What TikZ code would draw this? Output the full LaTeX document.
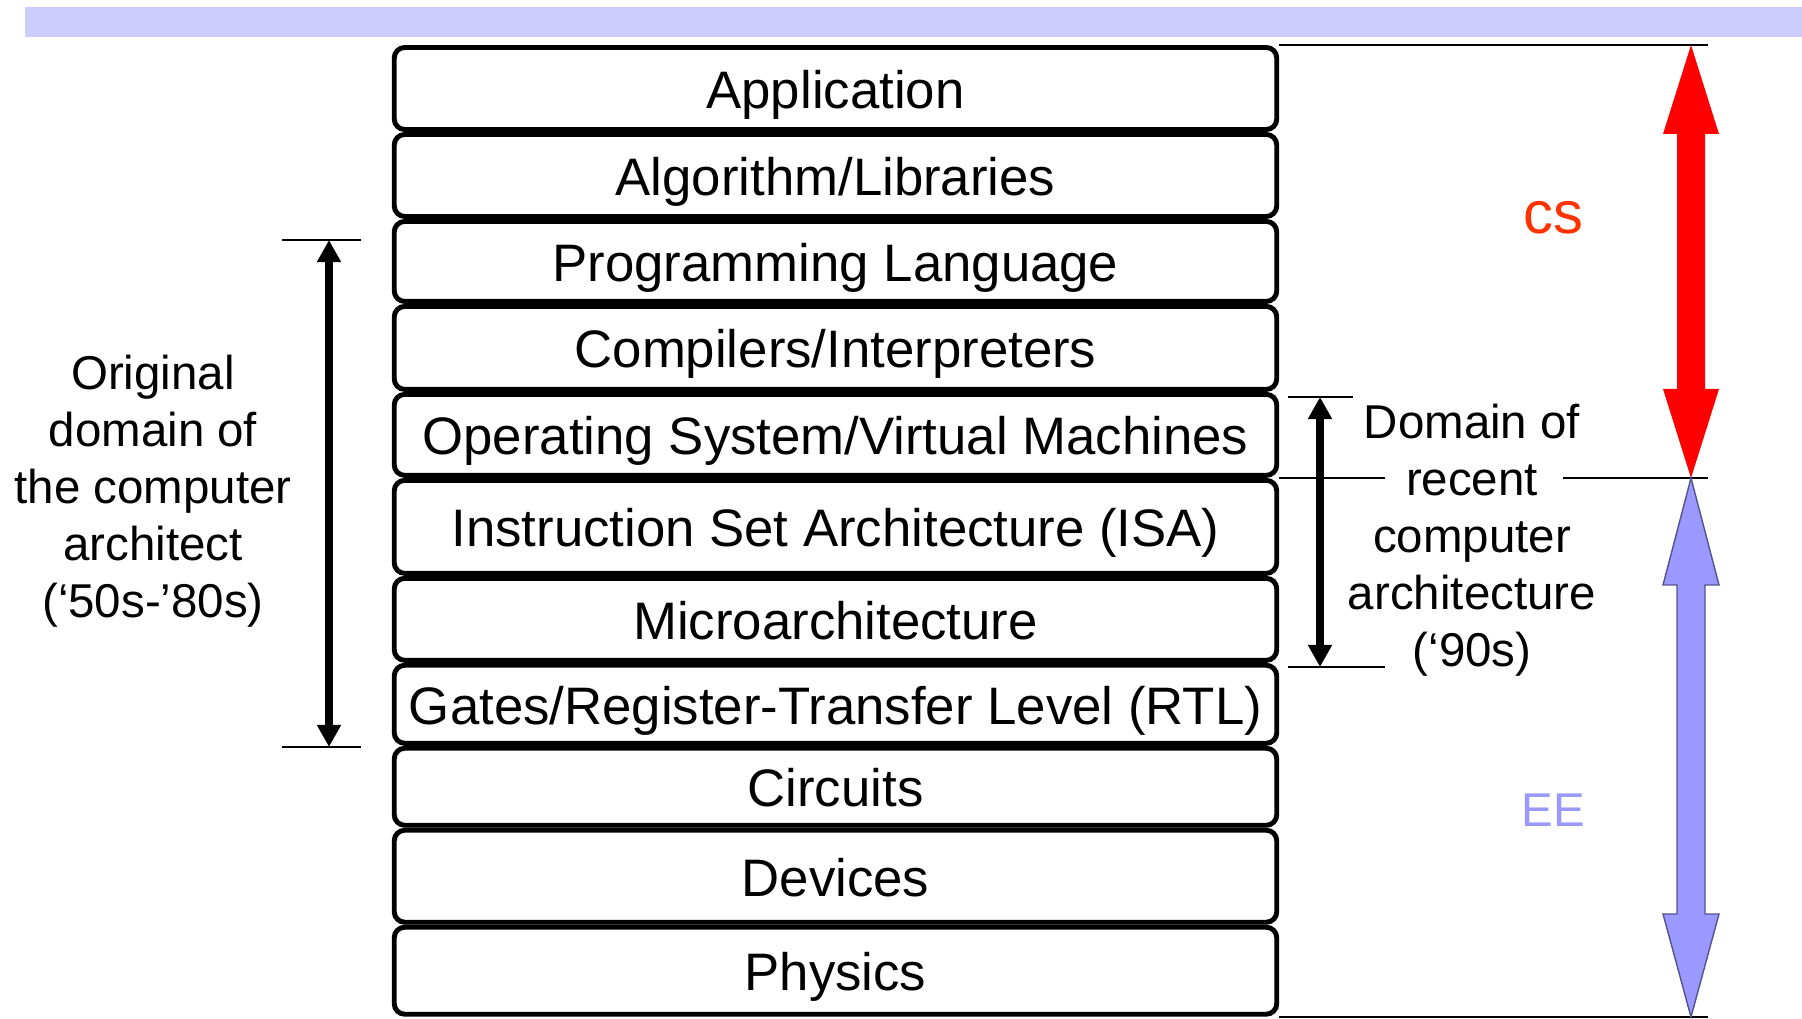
\documentclass[tikz,border=0pt]{standalone}
\usepackage{fontspec}
\setmainfont{Liberation Sans}
\usepackage{tikz}
\usetikzlibrary{arrows.meta,positioning}
\definecolor{bandblue}{RGB}{204,204,255}
\definecolor{csred}{RGB}{255,51,0}
\definecolor{eeblue}{RGB}{153,153,255}

\begin{document}
\begin{tikzpicture}[
  x=0.01cm, y=-0.01cm,
  layer/.style={draw, line width=1.4pt, rounded corners=3pt, minimum width=8.82cm, inner sep=2pt, text height=1.13em, text depth=0pt, font=\fontsize{15}{18}\selectfont},
  note/.style={align=center, font=\fontsize{13.5}{16.2}\selectfont},
  rule/.style={line width=0.6pt},
  span/.style={{Triangle[length=6.3pt,width=6.5pt]}-{Triangle[length=6.3pt,width=6.5pt]}, line width=2pt},
  fat/.style={line join=miter}
]
\useasboundingbox (0,0) rectangle (1802,1019);

\fill[bandblue] (25,7) rectangle (1802,37);

% the layers, top to bottom
\node[layer, minimum height=0.82cm] (app) at (835.5,88.5) {Application};
\node[layer, minimum height=0.82cm, below=0pt of app] (alg) {Algorithm/Libraries};
\node[layer, minimum height=0.80cm, below=0pt of alg] (prog) {Programming Language};
\node[layer, minimum height=0.83cm, below=0pt of prog] (comp) {Compilers/Interpreters};
\node[layer, minimum height=0.81cm, below=0pt of comp] (os) {Operating System/Virtual Machines};
\node[layer, minimum height=0.93cm, below=0pt of os] (isa) {Instruction Set Architecture (ISA)};
\node[layer, minimum height=0.82cm, below=0pt of isa] (micro) {Microarchitecture};
\node[layer, minimum height=0.78cm, below=0pt of micro] (rtl) {Gates/Register-Transfer Level (RTL)};
\node[layer, minimum height=0.77cm, below=0pt of rtl] (circ) {Circuits};
\node[layer, minimum height=0.92cm, below=0pt of circ] (dev) {Devices};
\node[layer, minimum height=0.87cm, below=0pt of dev] (phys) {Physics};

% CS / EE split on the right
\coordinate (csTop) at (1691,45);
\coordinate (split) at (1691,478);
\coordinate (eeBot) at (1691,1017);
\draw[rule] (app.north east) -- (app.north east -| 1708,0);
\draw[rule] (os.south east) -- (os.south east -| 1385,0);
\draw[rule] (os.south east -| 1563,0) -- (os.south east -| 1708,0);
\draw[rule] (phys.south east) -- (phys.south east -| 1708,0);
\fill[fat, red] (csTop) -- ++(28,89) -- ++(-14,0) -- ++(0,255) -- ++(14,0)
  -- (split) -- ++(-28,-89) -- ++(14,0) -- ++(0,-255) -- ++(-14,0) -- cycle;
\filldraw[fat, fill=eeblue, draw=eeblue!55!black, line width=0.4pt] (split) -- ++(28,107) -- ++(-14,0) -- ++(0,329) -- ++(14,0)
  -- (eeBot) -- ++(-28,-103) -- ++(14,0) -- ++(0,-329) -- ++(-14,0) -- cycle;
\node[text=csred, font=\fontsize{17}{20}\selectfont] (cs) at (1553,218) {cs};
\node[text=eeblue, font=\fontsize{13.5}{16}\selectfont] (ee) at (1553,810) {EE};

% original domain
\coordinate (oldTop) at (329,240);
\coordinate (oldBot) at (329,747);
\draw[rule] ([xshift=-0.47cm]oldTop) -- ([xshift=0.32cm]oldTop);
\draw[rule] ([xshift=-0.47cm]oldBot) -- ([xshift=0.32cm]oldBot);
\draw[span] (oldTop) -- (oldBot);
\node[note] (orig) at (153,491) {Original\\domain of\\the computer\\architect\\(‘50s-’80s)};

% recent domain
\coordinate (newTop) at (1320,397);
\coordinate (newBot) at (1320,667);
\draw[rule] ([xshift=-0.32cm]newTop) -- ([xshift=0.33cm]newTop);
\draw[rule] ([xshift=-0.32cm]newBot) -- ([xshift=0.65cm]newBot);
\draw[span] (newTop) -- (newBot);
\node[note] (recent) at (1472,540) {Domain of\\recent\\computer\\architecture\\(‘90s)};

\end{tikzpicture}
\end{document}
